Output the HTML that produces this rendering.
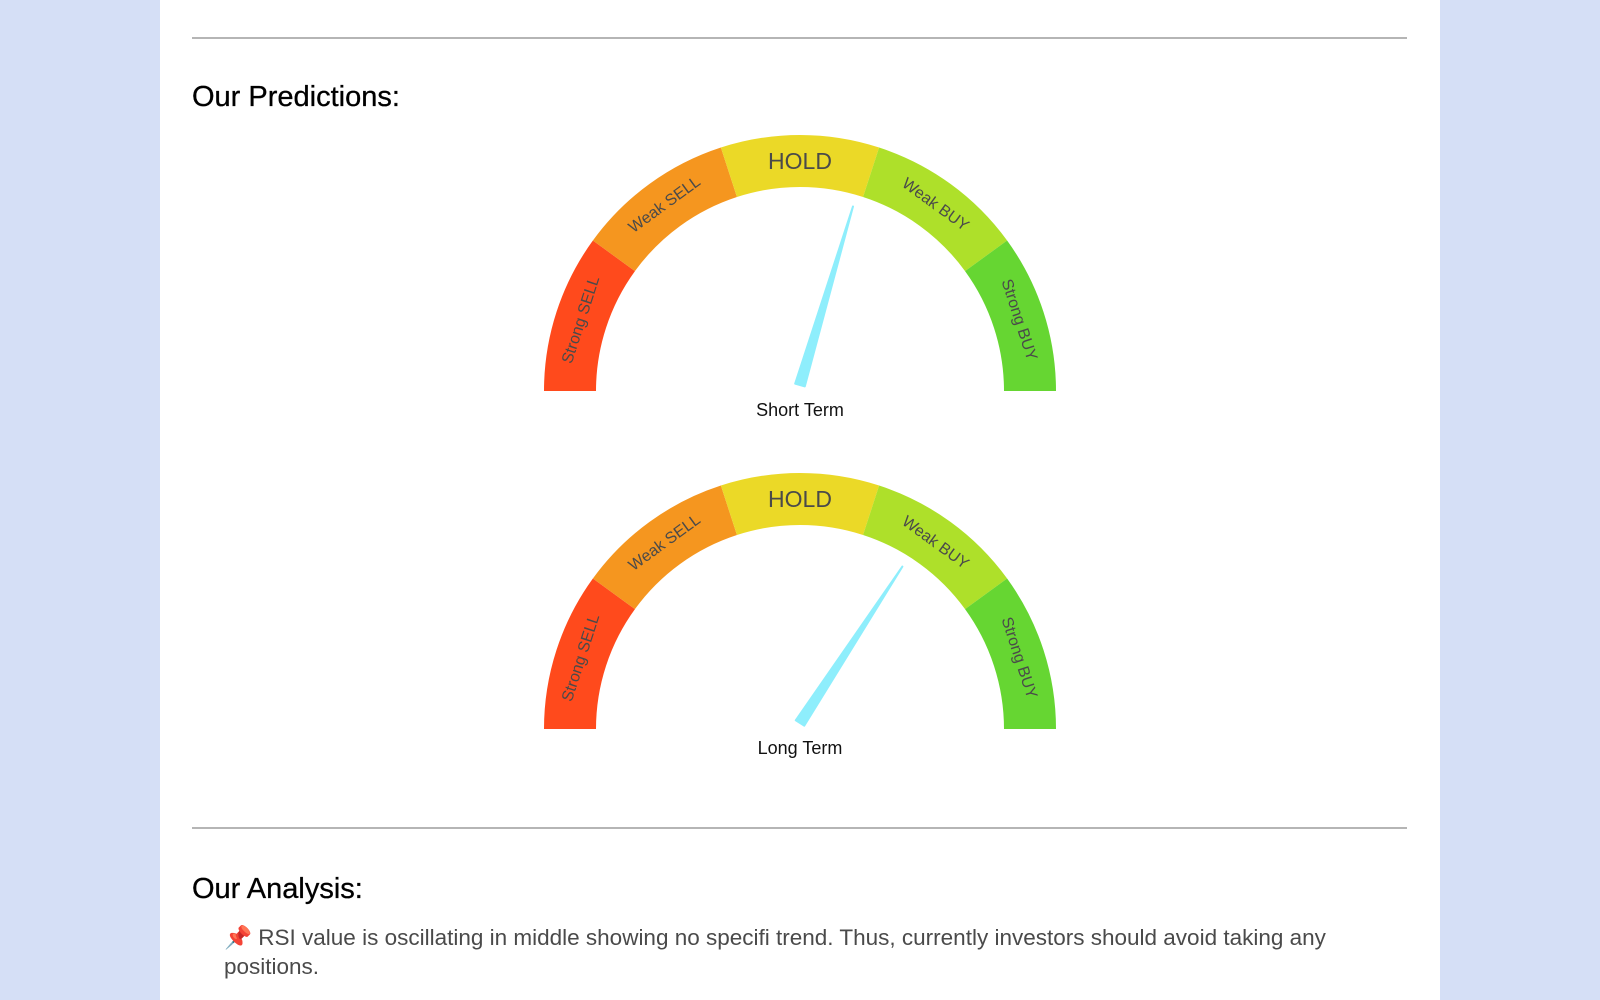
<!DOCTYPE html>
<html><head><meta charset="utf-8"><style>
html,body{margin:0;padding:0;width:1600px;height:1000px;overflow:hidden;background:#d5dff6;font-family:"Liberation Sans",sans-serif}
#panel{position:absolute;left:160px;top:0;width:1280px;height:1000px;background:#fff}
.hr{position:absolute;left:192px;width:1215px;height:2px;background:#b5b5b5}
h2{position:absolute;left:192px;margin:0;font-weight:normal;font-size:29px;color:#000;-webkit-text-stroke:0.3px #000}
#analysis{position:absolute;left:224px;top:923px;width:1135px;font-size:22.5px;line-height:29px;color:#4a4a4a}
svg{position:absolute;left:0;top:0}
</style></head><body>
<div id="panel"></div>
<div class="hr" style="top:37px"></div>
<h2 style="top:81px">Our Predictions:</h2>
<svg id="g" width="1600" height="1000"></svg>
<div class="hr" style="top:827px"></div>
<h2 style="top:873px">Our Analysis:</h2>
<div id="analysis"><span style="color:#d0263a">📌</span> RSI value is oscillating in middle showing no specifi trend. Thus, currently investors should avoid taking any positions.</div>
<script>
const segLabels=["Strong SELL","Weak SELL","HOLD","Weak BUY","Strong BUY"];
const segColors=["#ff4a1c","#f5961f","#ebd927","#aee02a","#66d632"];
const gaugeNames=["Short Term","Long Term"];
const gaugeValues=[0.589,0.679];
const NS="http://www.w3.org/2000/svg";
const svg=document.getElementById('g');
const cx=800,R=256,r=204,baseYs=[391,729];
function pt(a,rad,cy){return [cx-Math.cos(a)*rad,cy-Math.sin(a)*rad];}
function mk(t,attrs){const e=document.createElementNS(NS,t);for(const k in attrs)e.setAttribute(k,attrs[k]);svg.appendChild(e);return e;}
gaugeNames.forEach((name,gi)=>{
  const cy=baseYs[gi];const n=segLabels.length;
  segLabels.forEach((lab,i)=>{
    const a0=Math.PI*i/n,a1=Math.PI*(i+1)/n;
    const p0=pt(a0,R,cy),p1=pt(a1,R,cy),q1=pt(a1,r,cy),q0=pt(a0,r,cy);
    const p=mk('path',{d:`M${p0}L${p0} A${R},${R} 0 0 1 ${p1} L${q1} A${r},${r} 0 0 0 ${q0}Z`,fill:segColors[i]});
    
    
    const am=(a0+a1)/2;const [tx,ty]=pt(am,230,cy);
    const rot=(am*180/Math.PI)-90;
    const t=mk('text',{x:tx,y:ty,'text-anchor':'middle','dominant-baseline':'central',fill:'#4a4a4a','font-size':lab==='HOLD'?23:16,transform:`rotate(${rot} ${tx} ${ty})`});
    t.textContent=lab;
    
    
  });
  const a=Math.PI*gaugeValues[gi];
  const [tx,ty]=pt(a,192,cy);
  const px=Math.sin(a),py=-Math.cos(a);
  const w=5;
  const nd=mk('path',{d:`M${cx+px*w},${cy-6+py*w} L${tx},${ty} L${cx-px*w},${cy-6-py*w} Z`,fill:'#8eeefc','stroke':'#8eeefc','stroke-width':2,'stroke-linejoin':'round'});
  
  
  const lt=mk('text',{x:cx,y:cy+19,'text-anchor':'middle','dominant-baseline':'central',fill:'#111','font-size':18});
  lt.textContent=name;
  
  
});
</script>
</body></html>
